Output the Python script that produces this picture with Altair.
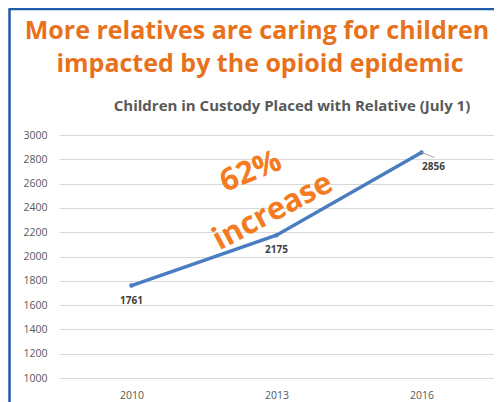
import altair as alt
import pandas as pd

years = ["2010", "2013", "2016"]
values = [1761, 2175, 2856]
y_ticks = [1000, 1200, 1400, 1600, 1800, 2000, 2200, 2400, 2600, 2800, 3000]
title_lines = ["More relatives are caring for children", "impacted by the opioid epidemic"]
subtitle = "Children in Custody Placed with Relative (July 1)"
note_lines = ["62%", "increase"]

df = pd.DataFrame({"year": years, "value": values})

FONT = "Open Sans"
x_enc = alt.X("year:O", scale=alt.Scale(type="point", padding=0.5),
              axis=alt.Axis(title=None, labelAngle=0, domain=False, ticks=False,
                            labelPadding=12, labelColor="#595959", labelFontSize=10.5,
                            labelFont=FONT))
y_enc = alt.Y("value:Q", scale=alt.Scale(domain=[1000, 3000], nice=False, zero=False),
              axis=alt.Axis(title=None, values=y_ticks, format="d", labelOverlap=False,
                            tickCount=11, domain=False, ticks=False,
                            labelPadding=12, labelColor="#595959", labelFontSize=10.5,
                            labelFont=FONT, gridColor="#D9D9D9", gridWidth=1.2))

base = alt.Chart(df)
line = base.mark_line(color="#4A7CC1", strokeWidth=3.5, strokeCap="round").encode(x=x_enc, y=y_enc)
pts = base.mark_point(color="#4A7CC1", filled=True, size=20, opacity=1).encode(x=x_enc, y=y_enc)

leader = base.transform_filter(alt.datum.year == "2016").mark_rule(
    color="#A6A6A6", strokeWidth=1, x2Offset=13, y2Offset=5
).encode(x=x_enc, y=y_enc, x2=alt.X2("year:O"), y2=alt.Y2("value:Q"))

lab_left = base.transform_filter(alt.datum.year != "2016").mark_text(
    font=FONT, fontWeight="bold", fontSize=10, color="#404040", dy=15
).encode(x=x_enc, y=y_enc, text="value:Q")
lab_right = base.transform_filter(alt.datum.year == "2016").mark_text(
    font=FONT, fontWeight="bold", fontSize=10, color="#404040", dy=15, dx=12
).encode(x=x_enc, y=y_enc, text="value:Q")

def txt(s, x, y, size, color, weight="bold", angle=0):
    return alt.Chart(pd.DataFrame({"t": [s]})).mark_text(
        font=FONT, fontSize=size, fontWeight=weight, color=color, angle=angle,
        align="center", baseline="middle"
    ).encode(text="t:N", x=alt.value(x), y=alt.value(y))

t1 = txt(title_lines[0], 198, -104, 25, "#E8711C")
t2 = txt(title_lines[1], 201, -71, 25, "#E8711C")
st = txt(subtitle, 233, -29, 15, "#595959")
n1 = txt(note_lines[0], 192, 37, 31, "#F47B20", angle=338)
n2 = txt(note_lines[1], 214, 77, 31, "#F47B20", angle=332)

border_v = alt.Chart(pd.DataFrame({"a": [0]})).mark_rule(color="#1F5BA8", strokeWidth=2.5).encode(
    x=alt.value(-49.5), y=alt.value(-126), y2=alt.value(290))
border_h = alt.Chart(pd.DataFrame({"a": [0]})).mark_rule(color="#1F5BA8", strokeWidth=2.5).encode(
    x=alt.value(-50.5), x2=alt.value(445), y=alt.value(-126))

chart = alt.layer(line, pts, leader, lab_left, lab_right, t1, t2, st, n1, n2, border_v, border_h).properties(
    width=435, height=243,
    autosize=alt.AutoSizeParams(type="none"),
    padding={"left": 51, "top": 127, "right": 0, "bottom": 24},
).configure_view(stroke=None)

chart.save("out.html", embed_options={"renderer": "svg", "actions": False})
